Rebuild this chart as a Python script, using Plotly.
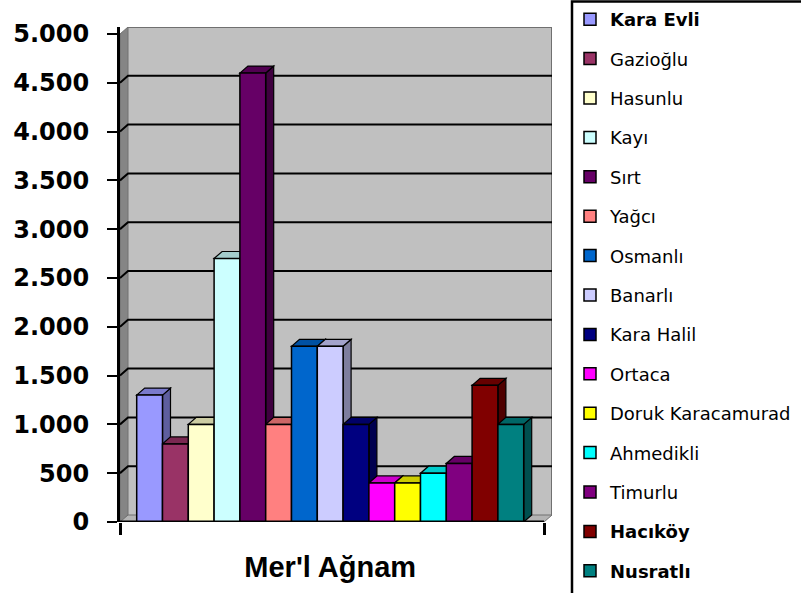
import plotly.graph_objects as go

# ---------------- data ----------------
category = "Mer'l Ağnam"
series_names = ["Kara Evli", "Gazioğlu", "Hasunlu", "Kayı", "Sırt", "Yağcı", "Osmanlı",
                "Banarlı", "Kara Halil", "Ortaca", "Doruk Karacamurad", "Ahmedikli",
                "Timurlu", "Hacıköy", "Nusratlı"]
series_values = [1300, 800, 1000, 2700, 4600, 1000, 1800, 1800, 1000, 400, 400, 500, 600, 1400, 1000]
y_ticks = [0, 500, 1000, 1500, 2000, 2500, 3000, 3500, 4000, 4500, 5000]

# ---------------- style ----------------
colors = ["#9999FF", "#993366", "#FFFFCC", "#CCFFFF", "#660066", "#FF8080", "#0066CC",
          "#CCCCFF", "#000080", "#FF00FF", "#FFFF00", "#00FFFF", "#800080", "#800000", "#008080"]
bold_names = {"Kara Evli", "Hacıköy", "Nusratlı"}

W, H = 801, 593
L, R, T, B = 120, 552, 27, 522       # plot area in pixels
DEPTH_X, DEPTH_Y = 8, 7               # 3D depth offset in pixels
BAR_PX = 25.8                         # bar width in pixels
FIRST_BAR_LEFT = 136.7
LEGEND_LEFT = 572

ymax_val = y_ticks[-1]
ppu = (B - T - DEPTH_Y) / ymax_val    # pixels per unit (y)
DY = DEPTH_Y / ppu
xmin = -0.5 - (FIRST_BAR_LEFT - L) / BAR_PX
xmax = xmin + (R - L) / BAR_PX
DX = DEPTH_X / BAR_PX


def px_to_paper_x(px):
    return (px - L) / (R - L)


def px_to_paper_y(py):
    return (B - py) / (B - T)


def shade(hexc, f):
    h = hexc.lstrip("#")
    r, g, b = (int(h[i:i + 2], 16) for i in (0, 2, 4))
    return "#%02X%02X%02X" % (int(r * f), int(g * f), int(b * f))


fig = go.Figure()
shapes = []
# back wall
shapes.append(dict(type="rect", xref="x", yref="y", x0=xmin + DX, x1=xmax, y0=DY, y1=ymax_val + DY,
                   fillcolor="#C0C0C0", line=dict(width=0), layer="below"))
shapes.append(dict(type="path", xref="x", yref="y",
                   path=f"M{xmin + DX},{ymax_val + DY} L{xmax},{ymax_val + DY} L{xmax},{DY}",
                   line=dict(color="#707070", width=2), layer="below"))
# side wall
shapes.append(dict(type="path", xref="x", yref="y",
                   path=f"M{xmin},0 L{xmin + DX},{DY} L{xmin + DX},{ymax_val + DY} L{xmin},{ymax_val} Z",
                   fillcolor="#858585", line=dict(color="#707070", width=1), layer="below"))
# floor
shapes.append(dict(type="path", xref="x", yref="y",
                   path=f"M{xmin},0 L{xmax - DX},0 L{xmax},{DY} L{xmin + DX},{DY} Z",
                   fillcolor="#B4B4B4", line=dict(color="#707070", width=1), layer="below"))
# gridlines on back wall
for v in y_ticks[1:-1]:
    shapes.append(dict(type="path", xref="x", yref="y",
                       path=f"M{xmin},{v} L{xmin + DX},{v + DY} L{xmax},{v + DY}",
                       line=dict(color="black", width=2), layer="below"))
# floor front edge
shapes.append(dict(type="line", xref="x", yref="y", x0=xmin, x1=xmax - DX, y0=0, y1=0,
                   line=dict(color="black", width=3), layer="above"))

# 3D faces for bars
for i, (v, c) in enumerate(zip(series_values, colors)):
    xl, xr = i - 0.5, i + 0.5
    shapes.append(dict(type="path", xref="x", yref="y",
                       path=f"M{xr},0 L{xr + DX},{DY} L{xr + DX},{v + DY} L{xr},{v} Z",
                       fillcolor=shade(c, 0.62), line=dict(color="black", width=1.2), layer="below"))
    shapes.append(dict(type="path", xref="x", yref="y",
                       path=f"M{xl},{v} L{xr},{v} L{xr + DX},{v + DY} L{xl + DX},{v + DY} Z",
                       fillcolor=shade(c, 0.8), line=dict(color="black", width=1.2), layer="below"))

# legend frame (runs off the right and bottom edges like the original)
shapes.append(dict(type="rect", xref="paper", yref="paper",
                   x0=px_to_paper_x(LEGEND_LEFT), x1=px_to_paper_x(W + 30),
                   y0=px_to_paper_y(H + 30), y1=px_to_paper_y(1.5),
                   line=dict(color="black", width=2.5), fillcolor="rgba(0,0,0,0)", layer="above"))

for i, (n, v, c) in enumerate(zip(series_names, series_values, colors)):
    label = f"<b>{n}</b>" if n in bold_names else n
    fig.add_trace(go.Bar(x=[i], y=[v], width=1, name=label, legendgroup=n,
                         marker=dict(color=c, line=dict(color="black", width=1.5)),
                         hovertemplate=f"{n}: %{{y}}<extra></extra>"))

center = (len(series_values) - 1) / 2
fig.update_layout(
    width=W, height=H,
    margin=dict(l=L, r=W - R, t=T, b=H - B, autoexpand=False),
    paper_bgcolor="white", plot_bgcolor="white",
    barmode="overlay", separators=",.",
    shapes=shapes,
    font=dict(family="DejaVu Sans", color="black"),
    legend=dict(x=px_to_paper_x(LEGEND_LEFT - 2), xanchor="left", y=px_to_paper_y(1), yanchor="top",
                borderwidth=0, bgcolor="rgba(0,0,0,0)",
                font=dict(family="DejaVu Sans", size=18, color="black"),
                tracegroupgap=13),
    xaxis=dict(range=[xmin, xmax], showgrid=False, zeroline=False, showline=False,
               tickmode="array", tickvals=[center], ticktext=[category], ticks="",
               tickfont=dict(family="Liberation Sans", size=29, color="black", weight="bold"),
               ticklabelstandoff=25,
               minor=dict(tickmode="array", tickvals=[xmin, xmax - DX], ticks="outside",
                          ticklen=12, tickwidth=3, tickcolor="black")),
    yaxis=dict(range=[0, ymax_val + DY], showgrid=False, zeroline=False,
               showline=True, linecolor="black", linewidth=3,
               tickmode="array", tickvals=y_ticks, tickformat=",d",
               ticks="outside", ticklen=10, tickwidth=2, tickcolor="black",
               tickfont=dict(family="DejaVu Sans", size=24, color="black", weight="bold"),
               ticklabelstandoff=13),
)
try:
    fig.update_layout(legend_maxheight=2000)
except Exception:
    pass
fig.write_html("out.html", config={"displayModeBar": False},
               post_script="document.body.style.margin='0';")
